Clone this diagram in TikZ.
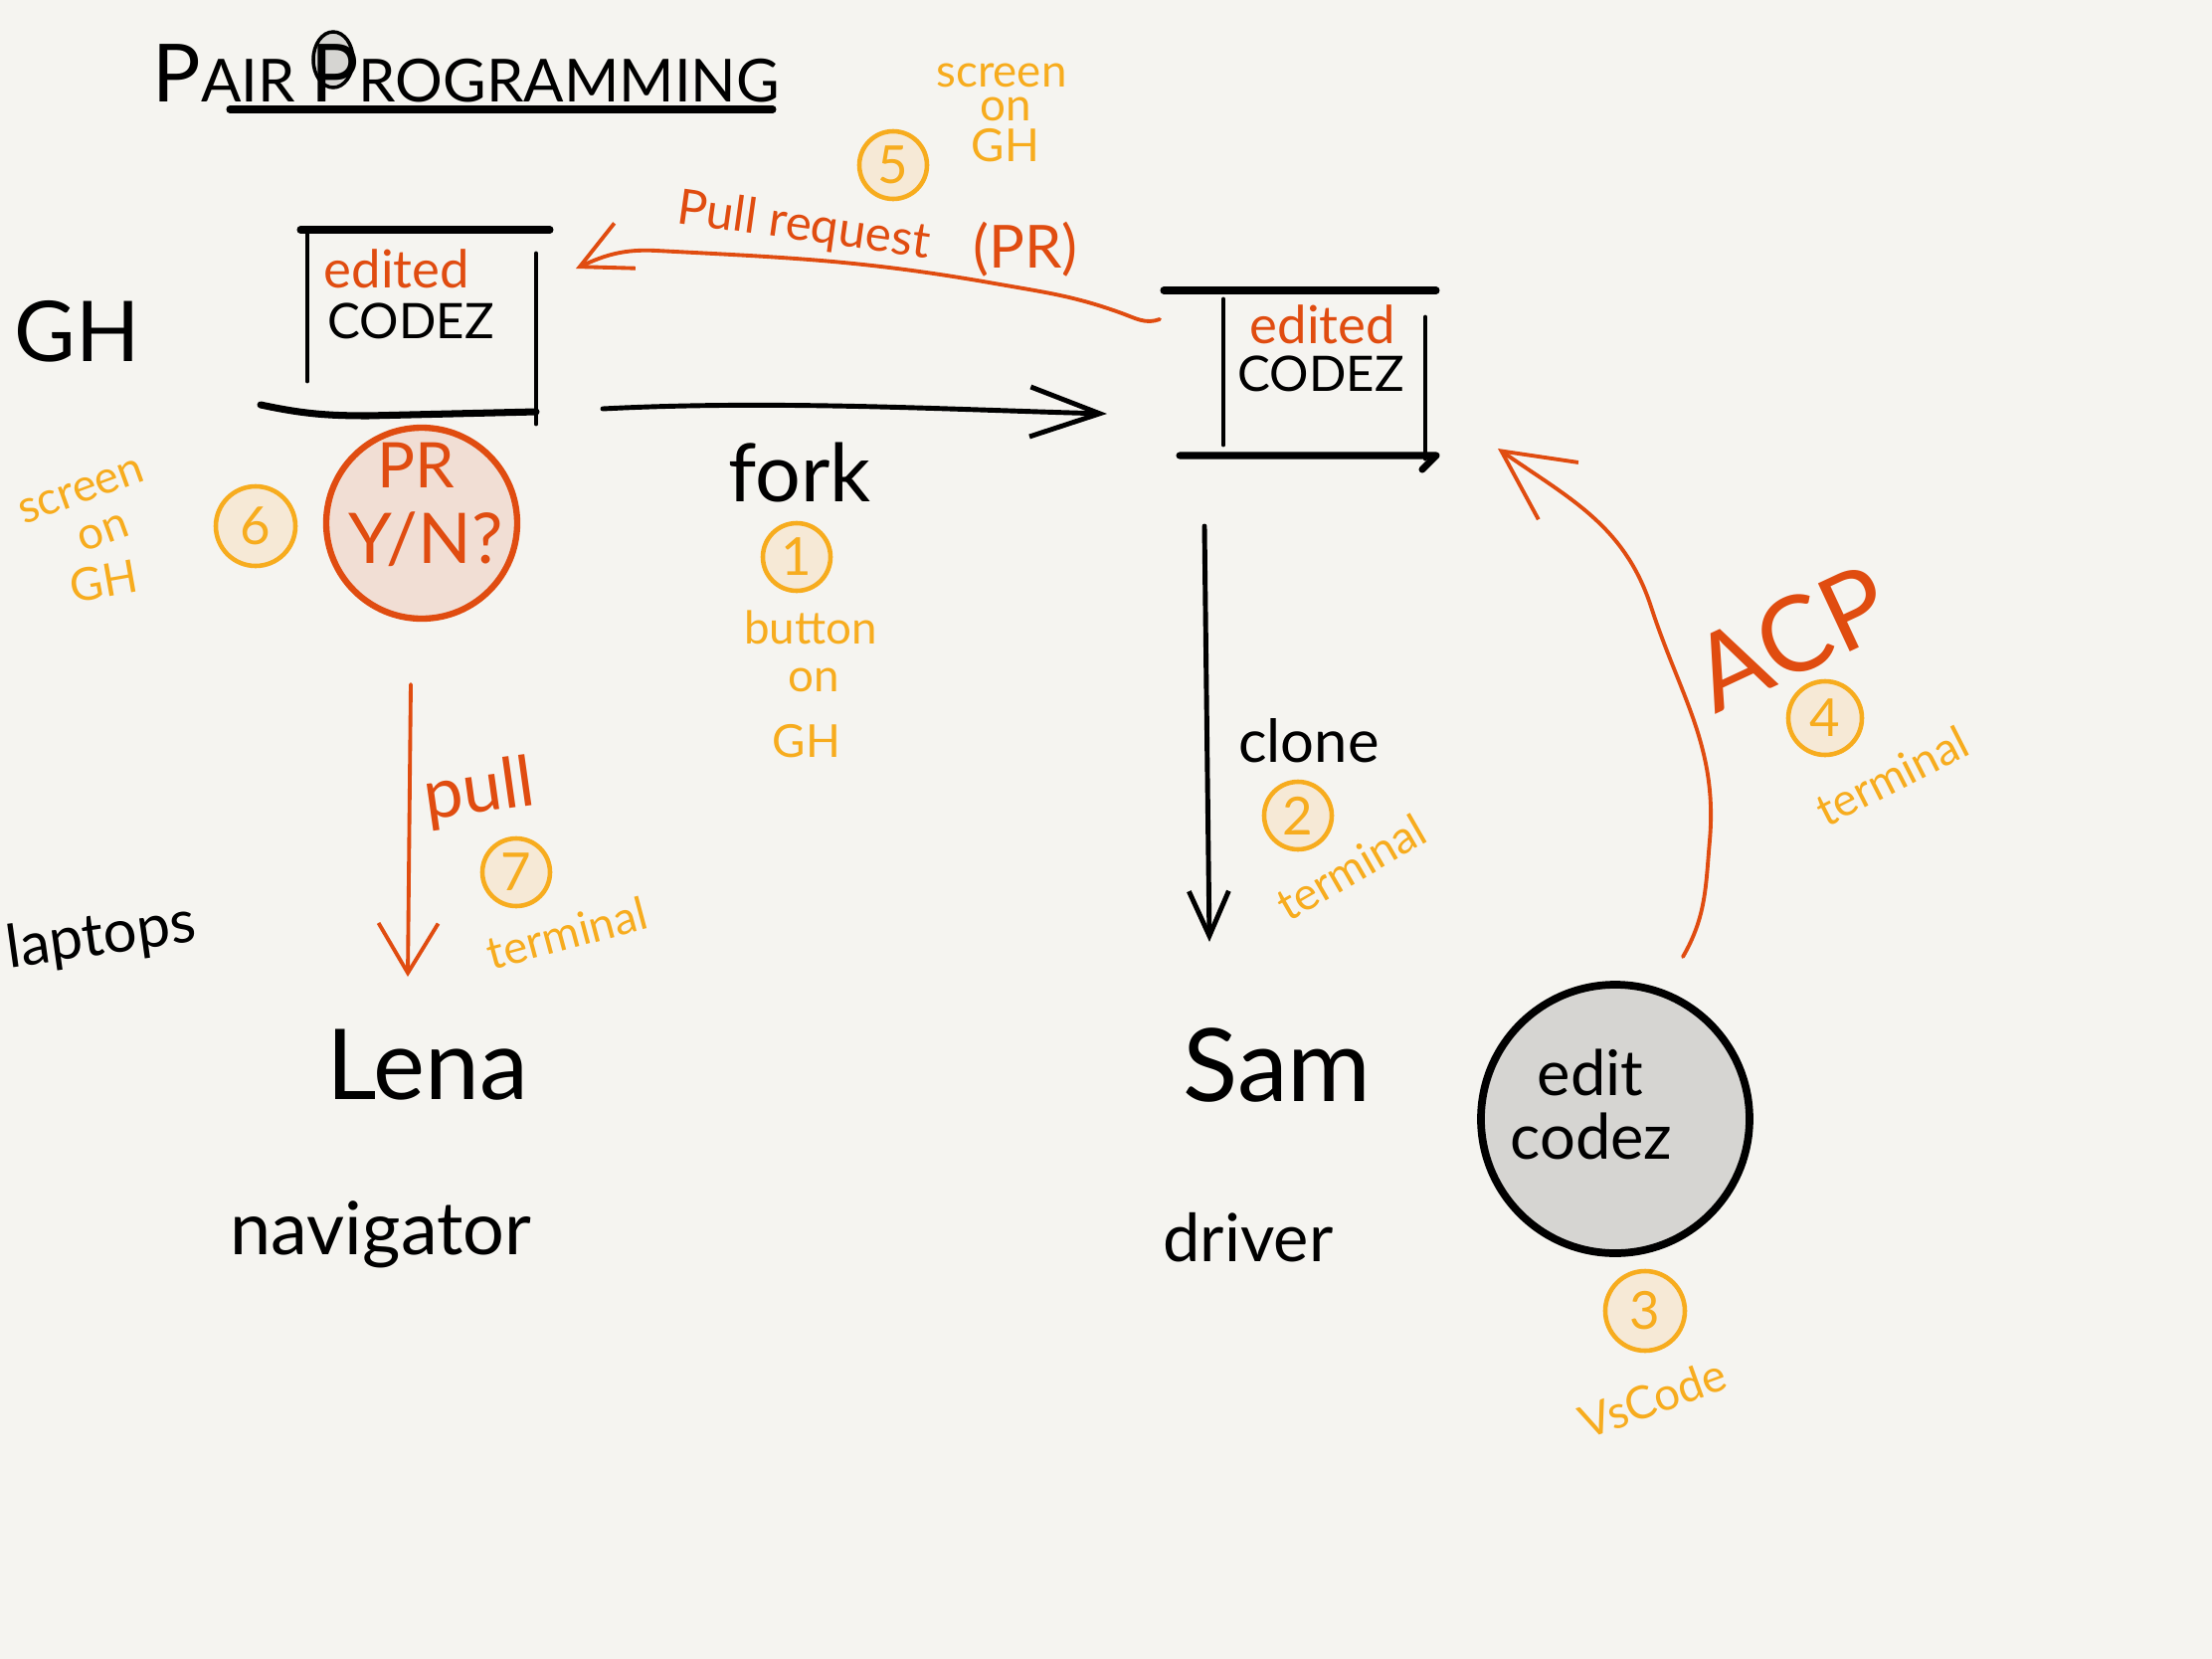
\documentclass[tikz,border=0pt]{standalone}
\usepackage{fontspec}
\setmainfont{Lato}
\usetikzlibrary{arrows.meta}
\definecolor{paper}{RGB}{245,244,240}
\definecolor{rust}{RGB}{224,76,16}
\definecolor{amber}{RGB}{247,172,30}
\definecolor{amberfill}{RGB}{246,233,214}
\definecolor{prfill}{RGB}{241,222,212}
\definecolor{pencil}{RGB}{214,213,210}
\newcommand{\handsz}[1]{\fontsize{#1}{#1}\selectfont}
\tikzset{
  ink/.style={line width=1.4pt, line cap=round, line join=round},
  rustline/.style={rust, line width=1.1pt, line cap=round, line join=round},
  stepcirc/.style={circle, draw=amber, fill=amberfill, line width=1.3pt, text=amber,
    minimum size=0.68cm, inner sep=0pt, font=\handsz{15}},
  note/.style={text=amber, font=\handsz{13}, inner sep=0pt},
  word/.style={inner sep=0pt},
}
\begin{document}
\begin{tikzpicture}
\fill[paper] (0,0) rectangle (22.24,-16.68);
\useasboundingbox (0,0) rectangle (22.24,-16.68);

\draw[line width=1pt, fill=pencil] (3.35,-0.60) ellipse [x radius=0.2, y radius=0.28];
\node[word, anchor=base west] (title) at (1.53,-1.02) {\handsz{17}{\handsz{23}P}AIR {\handsz{23}P}ROGRAMMING};
\draw[ink, line width=2pt] (2.31,-1.10) -- (7.77,-1.10);

\node[word, font=\handsz{24}] (gh) at (0.78,-3.33) {GH};
\node[word, font=\handsz{17}, rotate=8] (laptops) at (1.02,-9.43) {laptops};

\draw[ink, line width=2pt] (3.02,-2.31) -- (5.53,-2.31);
\draw[ink] (3.09,-2.36) -- (3.09,-3.83);
\draw[ink] (5.39,-2.55) -- (5.39,-4.26);
\draw[ink, line width=2pt] (2.62,-4.07) to[out=-12,in=180] (3.7,-4.18) -- (5.39,-4.14);
\node[word, text=rust, font=\handsz{15}] (ghedited) at (3.99,-2.70) {edited};
\node[word, font=\handsz{14}] (ghcodez) at (4.13,-3.23) {CODEZ};

\draw[ink, line width=2pt] (11.70,-2.92) -- (14.44,-2.92);
\draw[ink] (12.30,-3.01) -- (12.30,-4.47);
\draw[ink] (14.33,-3.19) -- (14.33,-4.61);
\draw[ink, line width=2pt] (11.86,-4.58) -- (14.44,-4.58) -- (14.30,-4.72);
\node[word, text=rust, font=\handsz{15}] (forkedited) at (13.30,-3.26) {edited};
\node[word, font=\handsz{14}] (forkcodez) at (13.28,-3.76) {CODEZ};

\coordinate (forkstart) at (6.06,-4.11);
\coordinate (forktip) at (11.13,-4.16);
\draw[ink, -{Straight Barb[length=7mm,width=5mm]}] (forkstart) .. controls (7.8,-4.02) and (9.6,-4.12) .. (forktip);
\node[word, font=\handsz{23}] (fork) at (8.04,-4.75) {fork};
\node[stepcirc] (one) at (8.01,-5.60) {1};
\node[note] (button) at (8.15,-6.31) {button};
\node[note] (buttonon) at (8.18,-6.84) {on};
\node[note] (buttongh) at (8.11,-7.45) {GH};

\coordinate (prstart) at (11.66,-3.21);
\coordinate (prtip) at (5.79,-2.70);
\draw[rustline, -{Straight Barb[length=5mm,width=5mm]}] (prstart) to[out=200,in=-20] (11.28,-3.15)
  to[out=160,in=-10] (10.0,-2.85) to[out=170,in=-3] (6.6,-2.52) to[out=177,in=25] (prtip);
\node[word, text=rust, font=\handsz{14}, rotate=-8] (prlabel) at (8.08,-2.28) {Pull request};
\node[word, text=rust, font=\handsz{17}] (prshort) at (10.31,-2.51) {(PR)};
\node[stepcirc] (five) at (8.98,-1.66) {5};
\node[note] (scrtop) at (10.07,-0.76) {screen};
\node[note] (scrtopon) at (10.11,-1.10) {on};
\node[note] (scrtopgh) at (10.11,-1.46) {GH};

\node[circle, draw=rust, fill=prfill, line width=1.8pt, minimum size=1.92cm] (prq) at (4.24,-5.26) {};
\node[word, text=rust, font=\handsz{18}] (prqtop) at (4.18,-4.68) {PR};
\node[word, text=rust, font=\handsz{20}] (prqyn) at (4.28,-5.42) {Y/N?};
\node[stepcirc, minimum size=0.8cm] (six) at (2.57,-5.29) {6};
\node[note, rotate=20] (scrleft) at (0.82,-4.94) {screen};
\node[note, rotate=20] (scrlefton) at (1.04,-5.36) {on};
\node[note, rotate=10] (scrleftgh) at (1.04,-5.84) {GH};

\coordinate (pullstart) at (4.13,-6.88);
\coordinate (pulltip) at (4.10,-9.82);
\draw[rustline, -{Straight Barb[length=5mm,width=6mm]}] (pullstart) -- (pulltip);
\node[word, text=rust, font=\handsz{20}, rotate=8] (pull) at (4.82,-7.97) {pull};
\node[stepcirc] (seven) at (5.19,-8.77) {7};
\node[note, rotate=15] (termseven) at (5.70,-9.38) {terminal};

\node[word, font=\handsz{28}] (lena) at (4.30,-10.71) {Lena};
\node[word, font=\handsz{21}] (navigator) at (3.83,-12.41) {navigator};

\coordinate (clonestart) at (12.11,-5.29);
\coordinate (clonetip) at (12.16,-9.47);
\draw[ink, -{Straight Barb[length=4.5mm,width=4mm]}] (clonestart) -- (clonetip);
\node[word, font=\handsz{17}] (clone) at (13.16,-7.45) {clone};
\node[stepcirc] (two) at (13.05,-8.20) {2};
\node[note, rotate=30] (termtwo) at (13.58,-8.72) {terminal};

\node[word, font=\handsz{29}] (sam) at (12.84,-10.71) {Sam};
\node[word, font=\handsz{19}] (driver) at (12.55,-12.44) {driver};

\node[circle, draw=black, fill=pencil, line width=2.2pt, minimum size=2.7cm] (editc) at (16.24,-11.25) {};
\node[word, font=\handsz{18}] (edit) at (15.99,-10.78) {edit};
\node[word, font=\handsz{18}] (codez) at (16.00,-11.42) {codez};
\node[stepcirc, minimum size=0.8cm] (three) at (16.54,-13.18) {3};
\node[note, rotate=20] (vscode) at (16.62,-14.06) {VsCode};

\coordinate (acpstart) at (16.92,-9.62);
\coordinate (acptip) at (15.06,-4.51);
\draw[rustline, -{Straight Barb[length=7mm,width=7mm]}] (acpstart) to[out=60,in=-95] (17.19,-8.45)
  to[out=85,in=-72] (16.60,-6.10) to[out=108,in=-35] (acptip);
\node[word, text=rust, font=\handsz{30}, rotate=25] (acp) at (18.01,-6.41) {ACP};
\node[stepcirc, minimum size=0.74cm] (four) at (18.35,-7.22) {4};
\node[note, rotate=27] (termfour) at (19.02,-7.80) {terminal};
\end{tikzpicture}
\end{document}
